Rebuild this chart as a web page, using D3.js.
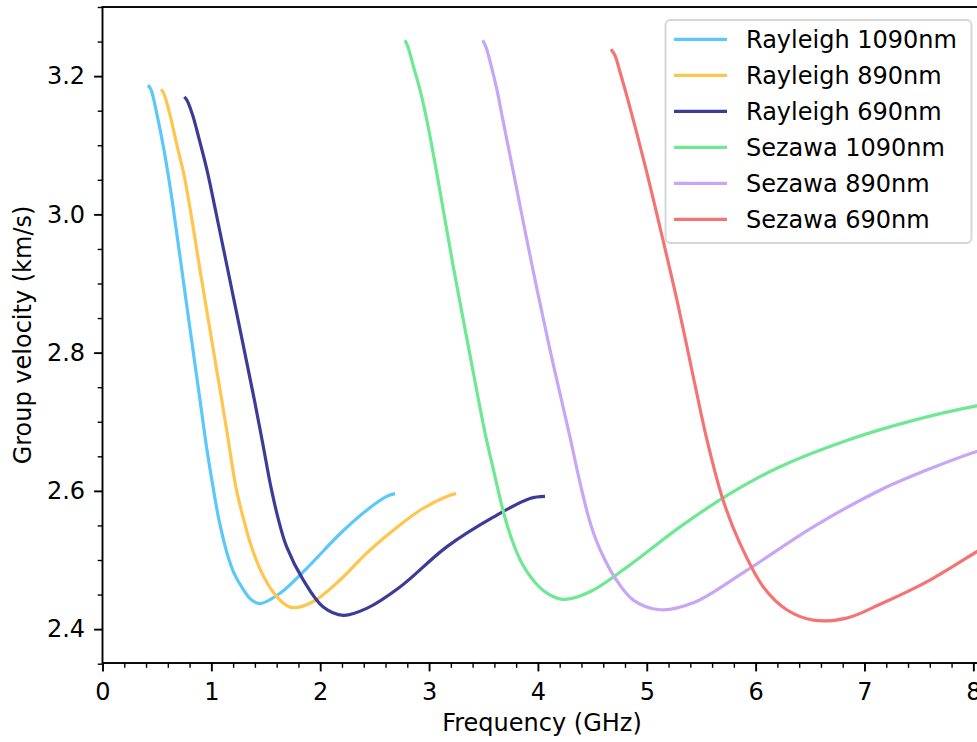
<!DOCTYPE html>
<meta charset="utf-8">
<html>
<head>
	<!-- Load d3.js -->
	<script src="https://d3js.org/d3.v7.min.js"></script>
</head>
<body style="margin:0; background:#fff;">

<div id="grafico"></div>

<script>

// valori: frequenza (GHz) e velocita di gruppo (km/s)
var freqR1090 = [0.418, 0.446, 0.501, 0.565, 0.639, 0.767, 0.896, 0.960, 1.015, 1.070, 1.144, 1.208, 1.291, 1.364, 1.447, 1.631, 1.876, 2.182, 2.427, 2.611, 2.687];
var velR1090  = [3.187, 3.180, 3.144, 3.093, 3.021, 2.876, 2.731, 2.659, 2.606, 2.558, 2.510, 2.481, 2.458, 2.443, 2.437, 2.452, 2.488, 2.538, 2.572, 2.592, 2.596];

var freqR890 = [0.538, 0.565, 0.620, 0.684, 0.758, 0.911, 1.065, 1.141, 1.226, 1.291, 1.373, 1.465, 1.566, 1.658, 1.750, 1.937, 2.182, 2.427, 2.672, 2.917, 3.162, 3.248];
var velR890  = [3.181, 3.174, 3.144, 3.100, 3.050, 2.905, 2.760, 2.688, 2.605, 2.562, 2.517, 2.481, 2.454, 2.438, 2.431, 2.440, 2.471, 2.510, 2.543, 2.572, 2.592, 2.596];

var freqR690 = [0.752, 0.776, 0.827, 0.891, 0.960, 1.038, 1.208, 1.396, 1.475, 1.548, 1.617, 1.692, 1.845, 2.028, 2.212, 2.427, 2.733, 3.162, 3.590, 3.927, 4.065];
var velR690  = [3.170, 3.165, 3.144, 3.107, 3.064, 3.006, 2.876, 2.731, 2.666, 2.605, 2.558, 2.519, 2.471, 2.432, 2.420, 2.430, 2.461, 2.519, 2.562, 2.589, 2.592];

var freqS1090 = [2.779, 2.807, 2.853, 2.917, 2.989, 3.082, 3.223, 3.367, 3.514, 3.588, 3.679, 3.762, 3.854, 3.955, 4.065, 4.233, 4.479, 4.846, 5.306, 5.765, 6.224, 6.837, 7.449, 8.031, 8.075];
var velS1090  = [3.252, 3.242, 3.216, 3.180, 3.129, 3.050, 2.924, 2.804, 2.684, 2.633, 2.572, 2.529, 2.495, 2.471, 2.454, 2.443, 2.454, 2.493, 2.548, 2.596, 2.635, 2.673, 2.702, 2.723, 2.724];

var freqS890 = [3.493, 3.523, 3.569, 3.624, 3.679, 3.771, 3.936, 4.111, 4.286, 4.378, 4.460, 4.534, 4.616, 4.708, 4.876, 5.121, 5.428, 5.918, 6.530, 7.143, 7.602, 8.031, 8.075];
var velS890  = [3.252, 3.242, 3.216, 3.180, 3.136, 3.064, 2.934, 2.804, 2.684, 2.618, 2.565, 2.529, 2.500, 2.474, 2.442, 2.428, 2.438, 2.485, 2.548, 2.601, 2.632, 2.657, 2.659];

var freqS690 = [4.671, 4.708, 4.754, 4.828, 4.984, 5.140, 5.287, 5.434, 5.554, 5.700, 5.856, 6.071, 6.286, 6.530, 6.837, 7.143, 7.602, 8.031, 8.075];
var velS690  = [3.239, 3.230, 3.206, 3.165, 3.071, 2.969, 2.869, 2.760, 2.673, 2.587, 2.524, 2.461, 2.428, 2.413, 2.416, 2.436, 2.471, 2.512, 2.516];

var etichette = ["Rayleigh 1090nm", "Rayleigh 890nm", "Rayleigh 690nm", "Sezawa 1090nm", "Sezawa 890nm", "Sezawa 690nm"];
var colori = ["#5ac8fa", "#ffc54d", "#3c3c98", "#6ee892", "#c8a6f6", "#f47474"];
var ticksX = [0, 1, 2, 3, 4, 5, 6, 7, 8];
var ticksY = [2.4, 2.6, 2.8, 3.0, 3.2];

var serie = [
  [freqR1090, velR1090], [freqR890, velR890], [freqR690, velR690],
  [freqS1090, velS1090], [freqS890, velS890], [freqS690, velS690]
].map(function(s, i) {
  return { nome: etichette[i], colore: colori[i], punti: s[0].map(function(f, j) { return [f, s[1][j]]; }) };
});

var W = 977, H = 742;
var margin = {top: 7, left: 102.5, right: 981.5, bottom: 663};
var font = "DejaVu Sans, sans-serif";

var svg = d3.select("#grafico")
  .append("svg")
    .attr("width", W)
    .attr("height", H)
    .style("font-family", font);

var x = d3.scaleLinear()
  .domain([0, 8.075])
  .range([margin.left, margin.right]);

var y = d3.scaleLinear()
  .domain([2.351, 3.300])
  .range([margin.bottom, margin.top]);

svg.append("clipPath").attr("id", "clip")
  .append("rect")
    .attr("x", margin.left).attr("y", margin.top)
    .attr("width", margin.right - margin.left)
    .attr("height", margin.bottom - margin.top);

// curve
var linea = d3.line()
  .x(function(d) { return x(d[0]); })
  .y(function(d) { return y(d[1]); })
  .curve(d3.curveCatmullRom.alpha(0.5));

svg.append("g")
  .attr("clip-path", "url(#clip)")
  .selectAll("path")
  .data(serie)
  .enter()
  .append("path")
    .attr("d", function(d) { return linea(d.punti); })
    .attr("fill", "none")
    .attr("stroke", function(d) { return d.colore; })
    .attr("stroke-width", 3.2)
    .attr("stroke-linejoin", "round");

// tick minori
var minX = d3.range(0, 8.1, 0.2).filter(function(v) { return Math.abs(v - Math.round(v)) > 0.01; });
var minY = d3.range(2.35, 3.31, 0.05).filter(function(v) { return Math.abs(v * 5 - Math.round(v * 5)) > 0.01; });

svg.append("g")
  .attr("transform", "translate(0," + margin.bottom + ")")
  .call(d3.axisBottom(x).tickValues(minX).tickSize(4.8).tickFormat(""))
  .call(function(g) { g.select(".domain").remove(); })
  .selectAll("line").attr("stroke-width", 1.4);

svg.append("g")
  .attr("transform", "translate(" + margin.left + ",0)")
  .call(d3.axisLeft(y).tickValues(minY).tickSize(4.8).tickFormat(""))
  .call(function(g) { g.select(".domain").remove(); })
  .selectAll("line").attr("stroke-width", 1.4);

// tick principali
var assX = svg.append("g")
  .attr("transform", "translate(0," + margin.bottom + ")")
  .call(d3.axisBottom(x).tickValues(ticksX).tickSize(8.4).tickPadding(11.5).tickFormat(d3.format("d")));
assX.select(".domain").remove();
assX.selectAll("line").attr("stroke-width", 1.9);
assX.selectAll("text").style("font-size", "24px").style("font-family", font).attr("fill", "#000");

var assY = svg.append("g")
  .attr("transform", "translate(" + margin.left + ",0)")
  .call(d3.axisLeft(y).tickValues(ticksY).tickSize(8.4).tickPadding(9).tickFormat(d3.format(".1f")));
assY.select(".domain").remove();
assY.selectAll("line").attr("stroke-width", 1.9);
assY.selectAll("text").style("font-size", "24px").style("font-family", font).attr("fill", "#000");

// bordo
svg.append("rect")
  .attr("x", margin.left).attr("y", margin.top)
  .attr("width", margin.right - margin.left)
  .attr("height", margin.bottom - margin.top)
  .attr("fill", "none")
  .attr("stroke", "#000")
  .attr("stroke-width", 1.9);

// titoli assi
svg.append("text")
  .attr("x", (margin.left + margin.right) / 2)
  .attr("y", 731)
  .attr("text-anchor", "middle")
  .style("font-size", "24px")
  .text("Frequency (GHz)");

svg.append("text")
  .attr("transform", "translate(31," + ((margin.top + margin.bottom) / 2) + ") rotate(-90)")
  .attr("text-anchor", "middle")
  .style("font-size", "24px")
  .text("Group velocity (km/s)");

// legenda
var leg = svg.append("g");
leg.append("rect")
  .attr("x", 665.5).attr("y", 20)
  .attr("width", 306).attr("height", 223)
  .attr("rx", 5)
  .attr("fill", "#fff").attr("fill-opacity", 0.8)
  .attr("stroke", "#d6d6d6").attr("stroke-width", 1.9);

var voci = leg.selectAll("g.voce")
  .data(serie)
  .enter()
  .append("g")
  .attr("class", "voce")
  .attr("transform", function(d, i) { return "translate(0," + (39.3 + i * 36) + ")"; });

voci.append("line")
  .attr("x1", 674).attr("x2", 727)
  .attr("stroke", function(d) { return d.colore; })
  .attr("stroke-width", 3.2);

voci.append("text")
  .attr("x", 746)
  .attr("y", 8.7)
  .style("font-size", "24px")
  .text(function(d) { return d.nome; });

</script>

</body>
</html>
